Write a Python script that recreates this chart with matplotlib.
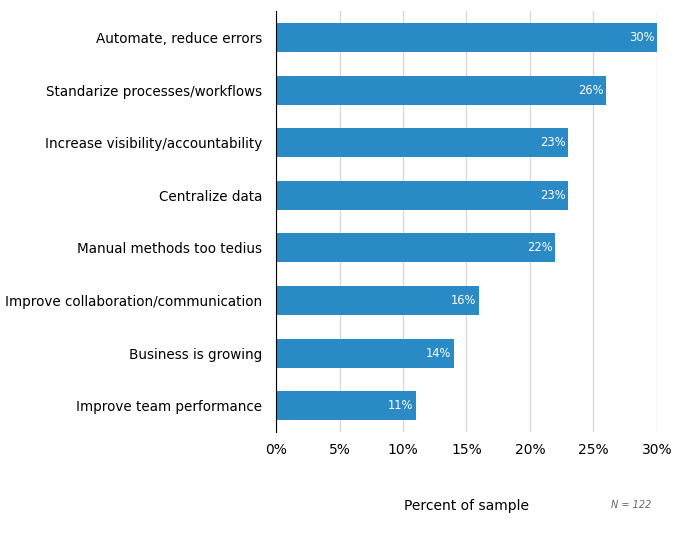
import numpy as np
import matplotlib.pyplot as plt

# Survey reasons, top to bottom
categories = [
    "Automate, reduce errors",
    "Standarize processes/workflows",
    "Increase visibility/accountability",
    "Centralize data",
    "Manual methods too tedius",
    "Improve collaboration/communication",
    "Business is growing",
    "Improve team performance",
]
percents = [30, 26, 23, 23, 22, 16, 14, 11]
xticks = [0, 5, 10, 15, 20, 25, 30]
sample_note = "N = 122"

bar_color = "#2a8ac6"

fig = plt.figure(figsize=(6.75, 5.34), dpi=100)
ax = fig.add_axes([0.409, 0.191, 0.564, 0.788])

y = np.arange(len(categories))
ax.barh(y, percents, height=0.55, color=bar_color, zorder=3)
for yi, v in zip(y, percents):
    ax.text(v - 0.2, yi, f"{v}%", color="white", fontsize=8.3,
            ha="right", va="center", zorder=4)

ax.set_ylim(len(categories) - 0.5, -0.5)
ax.set_yticks(y)
ax.set_yticklabels(categories, fontsize=9.75)
ax.set_xlim(0, 30)
ax.set_xticks(xticks)
ax.set_xticklabels([f"{t}%" for t in xticks], fontsize=10)
ax.tick_params(length=0, pad=10)
ax.tick_params(axis="x", pad=8)
ax.grid(axis="x", color="#d9d9d9", linewidth=1, zorder=0)

for side in ["top", "right", "bottom"]:
    ax.spines[side].set_visible(False)
ax.spines["left"].set_color("black")
ax.spines["left"].set_zorder(5)

fig.text(466 / 675, 1 - 506 / 534, "Percent of sample", fontsize=10,
         ha="center", va="center")
fig.text(631 / 675, 1 - 505 / 534, sample_note, fontsize=7, style="italic",
         color="#666666", ha="center", va="center")

fig.savefig("out.png", dpi=100)
